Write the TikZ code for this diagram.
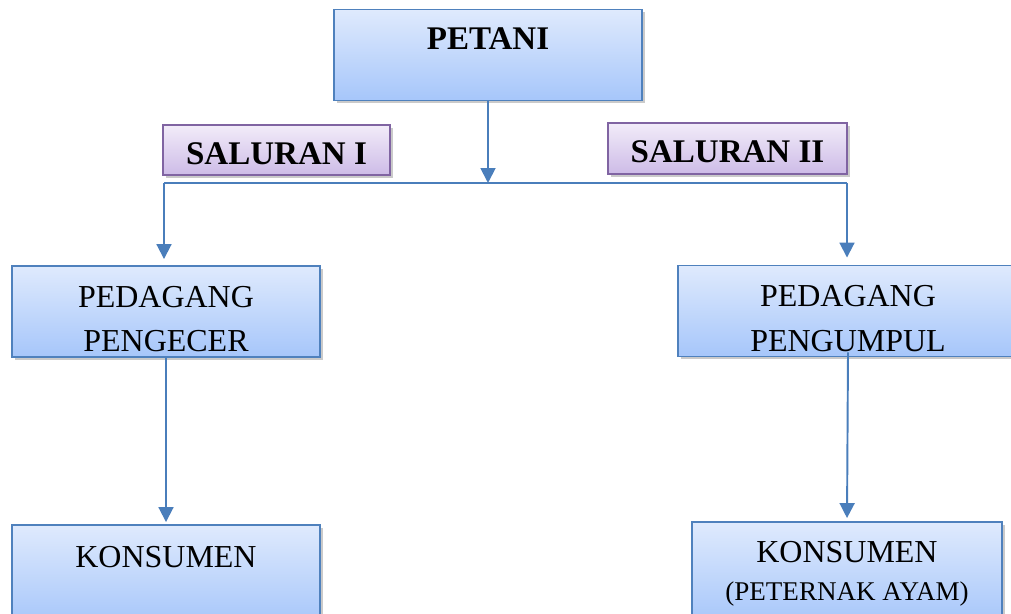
\documentclass[tikz,border=0pt]{standalone}
\usepackage{fontspec}
\setmainfont{Liberation Serif}
\usetikzlibrary{arrows.meta, shadows}
\definecolor{boxblue}{RGB}{79,129,189}
\definecolor{boxtop}{RGB}{223,234,253}
\definecolor{boxbot}{RGB}{166,198,250}
\definecolor{salpurple}{RGB}{128,100,162}
\definecolor{saltop}{RGB}{242,236,249}
\definecolor{salbot}{RGB}{205,187,231}
\definecolor{arrowblue}{RGB}{74,126,187}
\newcommand{\bigfont}{\fontsize{18.8pt}{25.5pt}\selectfont}
\newcommand{\regfont}{\fontsize{18.2pt}{25.5pt}\selectfont}
\newcommand{\smallfont}{\fontsize{15.4pt}{18pt}\selectfont}
\tikzset{
  block/.style={rectangle, draw=boxblue, top color=boxtop, bottom color=boxbot,
    line width=1.1pt, inner sep=0pt, align=center, font=\regfont,
    drop shadow={shadow xshift=1.5pt, shadow yshift=-1.5pt, opacity=0.35, fill=black!60}},
  salblock/.style={rectangle, draw=salpurple, top color=saltop, bottom color=salbot,
    line width=1.1pt, inner sep=0pt, align=center, font=\bigfont\bfseries,
    drop shadow={shadow xshift=1.5pt, shadow yshift=-1.5pt, opacity=0.35, fill=black!60}},
  arrow/.style={-{Triangle[width=8.5pt,length=8.5pt]}, line width=1.1pt, color=arrowblue},
  line/.style={line width=1.1pt, color=arrowblue}
}

\begin{document}
\begin{tikzpicture}[x=0.02cm, y=-0.02cm]
  \useasboundingbox (0,0) rectangle (1011,614);
  \node[block, font=\bigfont\bfseries, minimum width=6.16cm, text height=0.8cm, text depth=1.02cm] (petani) at (488,55) {PETANI};
  \node[salblock, minimum width=4.54cm, text height=0.8cm, text depth=0.2cm] (sal1) at (276.5,150) {SALURAN I};
  \node[salblock, minimum width=4.78cm, text height=0.8cm, text depth=0.22cm] (sal2) at (727.5,148.5) {SALURAN II};
  \node[block, minimum width=6.16cm, text height=1.72cm, text depth=0.1cm] (pengecer) at (166,311.5) {PEDAGANG\\PENGECER};
  \node[block, minimum width=6.8cm, text height=1.72cm, text depth=0.1cm] (pengumpul) at (848,311) {PEDAGANG\\PENGUMPUL};
  \node[block, minimum width=6.16cm, text height=0.84cm, text depth=1.16cm] (konsumen1) at (166,575) {KONSUMEN};
  \node[block, minimum width=6.2cm, text height=1.58cm, text depth=0.46cm] (konsumen2) at (847,573) {KONSUMEN\\[-3.5pt]{\smallfont (PETERNAK AYAM)}};
  % percabangan saluran
  \coordinate (hub) at (488,183);
  \coordinate (left) at (164,183);
  \coordinate (right) at (847,183);
  \draw[line] (left) -- (right);
  \draw[arrow] (petani.south) -- (hub);
  \draw[arrow, shorten >=0.12cm] (left) -- (left |- pengecer.north);
  \draw[arrow, shorten >=0.14cm] (right) -- (right |- pengumpul.north);
  \draw[arrow, shorten >=0.04cm] (pengecer.south) -- (konsumen1.north);
  \draw[arrow, shorten >=0.06cm] ([yshift=0.1cm]pengumpul.south) -- (konsumen2.north);
\end{tikzpicture}
\end{document}
